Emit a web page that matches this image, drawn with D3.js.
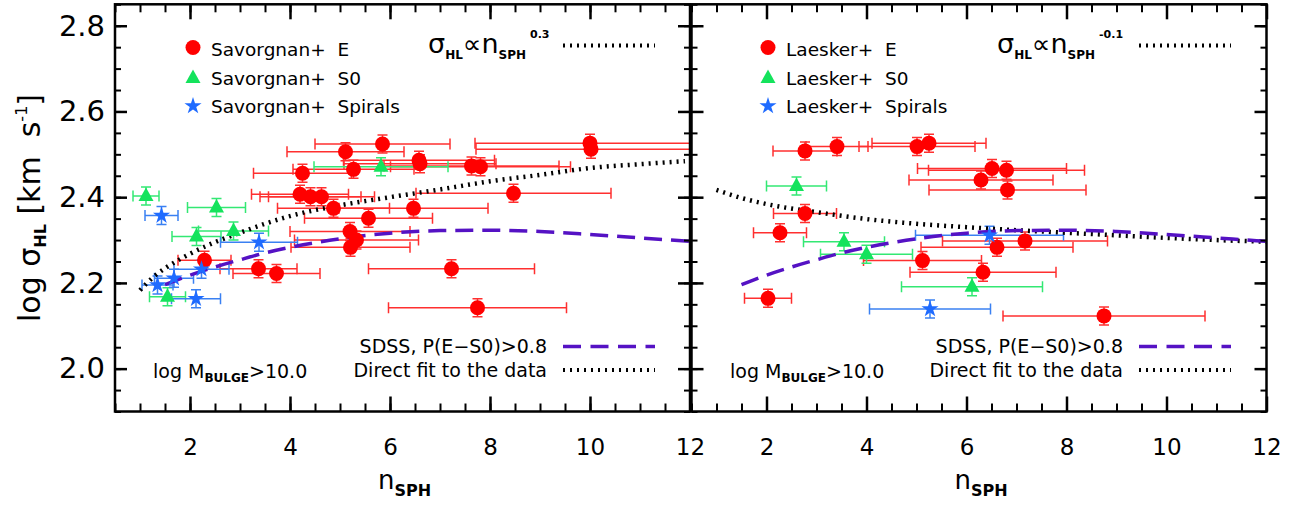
<!DOCTYPE html>
<html>
<head>
<meta charset="utf-8">
<script src="https://d3js.org/d3.v7.min.js"></script>
<style>
  body { margin: 0; background: #fff; }
  text { font-family: "DejaVu Sans", sans-serif; white-space: pre; }
</style>
</head>
<body>
<svg id="chart" width="1297" height="506"></svg>
<script>
// ---- left panel: Savorgnan+ sample ----
var savE_n    = [2.29, 3.37, 3.73, 4.20, 4.41, 4.63, 4.25, 4.87, 5.11, 5.27, 5.20, 5.33, 5.21, 5.57, 5.85, 6.47, 6.58, 6.60, 7.23, 7.63, 7.81, 7.75, 8.47, 10.00, 10.02];
var savE_sig  = [2.253, 2.233, 2.222, 2.407, 2.401, 2.401, 2.456, 2.374, 2.506, 2.465, 2.320, 2.300, 2.283, 2.351, 2.524, 2.374, 2.486, 2.478, 2.233, 2.473, 2.471, 2.142, 2.409, 2.526, 2.512];
var savE_nerr = [0.53, 0.77, 0.87, 0.97, 1.01, 1.06, 0.98, 1.12, 1.17, 1.21, 1.20, 1.24, 1.19, 1.28, 1.35, 1.49, 1.51, 1.52, 1.66, 1.75, 1.80, 1.78, 1.95, 2.30, 2.30];

var savS0_n    = [1.12, 1.55, 2.13, 2.53, 2.87, 5.82];
var savS0_sig  = [2.403, 2.168, 2.308, 2.376, 2.321, 2.471];
var savS0_nerr = [0.26, 0.36, 0.49, 0.58, 0.70, 1.34];

var savSp_n    = [1.35, 1.43, 1.68, 2.12, 2.23, 3.38];
var savSp_sig  = [2.195, 2.357, 2.211, 2.163, 2.232, 2.295];
var savSp_nerr = [0.31, 0.33, 0.39, 0.49, 0.55, 0.77];

// ---- right panel: Laesker+ sample ----
var laeE_n    = [2.03, 2.27, 2.77, 2.77, 3.41, 5.01, 5.25, 5.12, 6.29, 6.33, 6.51, 6.61, 6.80, 6.82, 7.17, 8.75];
var laeE_sig  = [2.164, 2.317, 2.362, 2.508, 2.518, 2.518, 2.526, 2.252, 2.440, 2.225, 2.467, 2.283, 2.463, 2.417, 2.298, 2.123];
var laeE_nerr = [0.47, 0.53, 0.63, 0.64, 0.62, 1.16, 1.14, 1.18, 1.44, 1.46, 1.49, 1.52, 1.56, 1.57, 1.65, 2.02];

var laeS0_n    = [2.60, 3.55, 4.00, 6.11];
var laeS0_sig  = [2.426, 2.296, 2.267, 2.191];
var laeS0_nerr = [0.60, 0.81, 0.92, 1.41];

var laeSp_n    = [5.27, 6.46];
var laeSp_sig  = [2.139, 2.311];
var laeSp_nerr = [1.21, 1.48];

var sigErr = 0.021;

// ---- curves ----
var savFit_n   = [1.0, 1.25, 1.5, 1.75, 2, 2.5, 3, 3.5, 4, 5, 6, 7, 8, 9, 10, 11, 11.9];
var savFit_sig = [2.183, 2.212, 2.234, 2.252, 2.268, 2.295, 2.317, 2.338, 2.356, 2.381, 2.400, 2.418, 2.437, 2.452, 2.468, 2.477, 2.484];

var laeFit_n   = [1.0, 1.5, 2, 3, 4, 5, 6, 7, 8, 9, 10, 11, 12];
var laeFit_sig = [2.417, 2.398, 2.384, 2.365, 2.349, 2.338, 2.330, 2.323, 2.317, 2.311, 2.305, 2.300, 2.296];

var sdss_n   = [1.5, 2, 2.5, 3, 3.5, 4, 5, 6, 7, 8, 9, 10, 11, 12];
var sdss_sig = [2.196, 2.218, 2.237, 2.254, 2.270, 2.283, 2.303, 2.316, 2.322, 2.323, 2.320, 2.313, 2.305, 2.297];

// ---- axes ----
var xDomain = [0.5, 12];
var yDomain = [1.9, 2.85];
var xMajor = [2, 4, 6, 8, 10, 12];
var xMinor = d3.range(0.5, 12.01, 0.5);
var yMajor = [2.0, 2.2, 2.4, 2.6, 2.8];
var yMinor = d3.range(1.9, 2.851, 0.05);

var red = "#ff0000", redBar = "#ff2f2f";
var green = "#14e35c", greenBar = "#33e873";
var blue = "#1f6bff", blueBar = "#3a80f2";
var purple = "#5512c4";

var svg = d3.select("#chart");
svg.append("rect").attr("width", 1297).attr("height", 506).attr("fill", "#fff");

var y = d3.scaleLinear().domain(yDomain).range([411.5, 4.3]);

var panels = [
  { id: "L", left: 115, right: 690, name: "Savorgnan+", expo: "0.3", fx: 428, lx: 193, ex: 547, lmx: 153,
    E: [savE_n, savE_sig, savE_nerr], S0: [savS0_n, savS0_sig, savS0_nerr], Sp: [savSp_n, savSp_sig, savSp_nerr],
    fit: [savFit_n, savFit_sig], yLabels: true },
  { id: "R", left: 691.5, right: 1266.5, name: "Laesker+", expo: "-0.1", fx: 997, lx: 768, ex: 1123, lmx: 730,
    E: [laeE_n, laeE_sig, laeE_nerr], S0: [laeS0_n, laeS0_sig, laeS0_nerr], Sp: [laeSp_n, laeSp_sig, laeSp_nerr],
    fit: [laeFit_n, laeFit_sig], yLabels: false }
];

function starPath(ro, ri) {
  var p = [];
  for (var i = 0; i < 10; i++) {
    var r = i % 2 ? ri : ro, a = -Math.PI / 2 + i * Math.PI / 5;
    p.push([r * Math.cos(a), r * Math.sin(a)]);
  }
  return "M" + p.join("L") + "Z";
}
var triPath = "M0,-8.5L7.5,5L-7.5,5Z";

function styleTicks(sel, w) {
  sel.select(".domain").remove();
  sel.selectAll(".tick line").attr("stroke", "#000").attr("stroke-width", w);
}

panels.forEach(function(p) {
  var x = d3.scaleLinear().domain(xDomain).range([p.left, p.right]);
  var g = svg.append("g");

  g.append("clipPath").attr("id", "clip" + p.id)
    .append("rect").attr("x", p.left).attr("y", y.range()[1])
    .attr("width", p.right - p.left).attr("height", y.range()[0] - y.range()[1]);
  var plot = g.append("g").attr("clip-path", "url(#clip" + p.id + ")");

  // error bars
  function errBars(set, col) {
    var idx = d3.range(set[0].length);
    var eb = plot.append("g").attr("stroke", col).attr("stroke-width", 1.5).attr("fill", "none");
    idx.forEach(function(i) {
      var n = set[0][i], s = set[1][i], e = set[2][i];
      var x0 = x(n - e), x1 = x(n + e), yc = y(s), y0 = y(s - sigErr), y1 = y(s + sigErr);
      eb.append("line").attr("x1", x0).attr("x2", x1).attr("y1", yc).attr("y2", yc);
      eb.append("line").attr("x1", x0).attr("x2", x0).attr("y1", yc - 5.5).attr("y2", yc + 5.5);
      eb.append("line").attr("x1", x1).attr("x2", x1).attr("y1", yc - 5.5).attr("y2", yc + 5.5);
      eb.append("line").attr("x1", x(n)).attr("x2", x(n)).attr("y1", y0).attr("y2", y1);
      eb.append("line").attr("x1", x(n) - 5).attr("x2", x(n) + 5).attr("y1", y0).attr("y2", y0);
      eb.append("line").attr("x1", x(n) - 5).attr("x2", x(n) + 5).attr("y1", y1).attr("y2", y1);
    });
  }
  errBars(p.E, redBar);
  errBars(p.S0, greenBar);
  errBars(p.Sp, blueBar);

  // curves
  var line = d3.line().x(function(d) { return x(d[0]); }).y(function(d) { return y(d[1]); })
    .curve(d3.curveMonotoneX);
  plot.append("path").datum(d3.zip(p.fit[0], p.fit[1])).attr("d", line)
    .attr("fill", "none").attr("stroke", "#000").attr("stroke-width", 4.5).attr("stroke-dasharray", "2,5");
  plot.append("path").datum(d3.zip(sdss_n, sdss_sig)).attr("d", line)
    .attr("fill", "none").attr("stroke", purple).attr("stroke-width", 3.5).attr("stroke-dasharray", "18,9");

  // markers
  plot.append("g").selectAll("circle").data(d3.zip(p.E[0], p.E[1])).join("circle")
    .attr("cx", function(d) { return x(d[0]); }).attr("cy", function(d) { return y(d[1]); })
    .attr("r", 7.5).attr("fill", red);
  plot.append("g").selectAll("path").data(d3.zip(p.S0[0], p.S0[1])).join("path")
    .attr("d", triPath).attr("fill", green)
    .attr("transform", function(d) { return "translate(" + x(d[0]) + "," + y(d[1]) + ")"; });
  plot.append("g").selectAll("path").data(d3.zip(p.Sp[0], p.Sp[1])).join("path")
    .attr("d", starPath(9, 3.4)).attr("fill", blue)
    .attr("transform", function(d) { return "translate(" + x(d[0]) + "," + y(d[1]) + ")"; });

  // axes: bottom / top
  var yb = y.range()[0], yt = y.range()[1];
  var bx = g.append("g").attr("transform", "translate(0," + yb + ")")
    .call(d3.axisBottom(x).tickValues(xMajor).tickSize(-15).tickPadding(27).tickFormat(d3.format("d")));
  styleTicks(bx, 2.5);
  bx.selectAll("text").attr("font-size", 23).attr("font-family", "DejaVu Sans").attr("fill", "#000");
  styleTicks(g.append("g").attr("transform", "translate(0," + yb + ")")
    .call(d3.axisBottom(x).tickValues(xMinor).tickSize(-8).tickFormat("")), 2);
  styleTicks(g.append("g").attr("transform", "translate(0," + yt + ")")
    .call(d3.axisTop(x).tickValues(xMajor).tickSize(-15).tickFormat("")), 2.5);
  styleTicks(g.append("g").attr("transform", "translate(0," + yt + ")")
    .call(d3.axisTop(x).tickValues(xMinor).tickSize(-8).tickFormat("")), 2);

  // axes: left / right
  var ly = g.append("g").attr("transform", "translate(" + p.left + ",0)")
    .call(d3.axisLeft(y).tickValues(yMajor).tickSize(-12).tickPadding(10)
      .tickFormat(p.yLabels ? d3.format(".1f") : ""));
  styleTicks(ly, 2.5);
  ly.selectAll("text").attr("font-size", 29).attr("font-family", "DejaVu Sans").attr("fill", "#000");
  styleTicks(g.append("g").attr("transform", "translate(" + p.left + ",0)")
    .call(d3.axisLeft(y).tickValues(yMinor).tickSize(-6).tickFormat("")), 2);
  styleTicks(g.append("g").attr("transform", "translate(" + p.right + ",0)")
    .call(d3.axisRight(y).tickValues(yMajor).tickSize(-12).tickFormat("")), 2.5);
  styleTicks(g.append("g").attr("transform", "translate(" + p.right + ",0)")
    .call(d3.axisRight(y).tickValues(yMinor).tickSize(-6).tickFormat("")), 2);

  g.append("rect").attr("x", p.left).attr("y", yt).attr("width", p.right - p.left).attr("height", yb - yt)
    .attr("fill", "none").attr("stroke", "#000").attr("stroke-width", 2.5);

  // x label
  var xl = g.append("text").attr("x", (p.left + p.right) / 2 + 2).attr("y", 489).attr("text-anchor", "middle");
  xl.append("tspan").attr("font-size", 26).text("n");
  xl.append("tspan").attr("font-size", 16).attr("font-weight", "bold").attr("dy", 7).text("SPH");

  // top-left legend
  var leg = g.append("g");
  leg.append("circle").attr("cx", p.lx).attr("cy", 47.5).attr("r", 7.5).attr("fill", red);
  leg.append("path").attr("d", triPath).attr("fill", green).attr("transform", "translate(" + p.lx + ",78)");
  leg.append("path").attr("d", starPath(9, 3.4)).attr("fill", blue).attr("transform", "translate(" + p.lx + ",106)");
  [[p.name + "  E", 56], [p.name + "  S0", 85], [p.name + "  Spirals", 113]].forEach(function(t) {
    leg.append("text").attr("x", p.lx + 18).attr("y", t[1]).attr("font-size", 18.5).text(t[0]);
  });

  // power-law label
  var f = g.append("text").attr("x", p.fx).attr("y", 53);
  f.append("tspan").attr("font-size", 27).text("σ");
  f.append("tspan").attr("font-size", 12).attr("font-weight", "bold").attr("dy", 6).text("HL");
  f.append("tspan").attr("font-size", 26).attr("dy", -6).text("∝");
  f.append("tspan").attr("font-size", 27).text("n");
  f.append("tspan").attr("font-size", 12).attr("font-weight", "bold").attr("dy", 6).text("SPH");
  f.append("tspan").attr("font-size", 11).attr("font-weight", "bold").attr("dy", -21).attr("dx", 4).text(p.expo);
  var lx0 = p.ex + 16, lx1 = p.ex + 108;
  g.append("line").attr("x1", lx0).attr("x2", lx1).attr("y1", 45.5).attr("y2", 45.5)
    .attr("stroke", "#000").attr("stroke-width", 4).attr("stroke-dasharray", "2,5");

  // bottom-right legend
  g.append("text").attr("x", p.ex).attr("y", 353).attr("text-anchor", "end").attr("font-size", 19).text("SDSS, P(E−S0)>0.8");
  g.append("text").attr("x", p.ex).attr("y", 377).attr("text-anchor", "end").attr("font-size", 19).text("Direct fit to the data");
  g.append("line").attr("x1", lx0).attr("x2", lx1).attr("y1", 346.5).attr("y2", 346.5)
    .attr("stroke", purple).attr("stroke-width", 3.5).attr("stroke-dasharray", "18,9.5");
  g.append("line").attr("x1", lx0).attr("x2", lx1).attr("y1", 370).attr("y2", 370)
    .attr("stroke", "#000").attr("stroke-width", 4).attr("stroke-dasharray", "2,5");

  // mass cut label
  var m = g.append("text").attr("x", p.lmx).attr("y", 378).attr("font-size", 19);
  m.append("tspan").text("log M");
  m.append("tspan").attr("font-size", 12).attr("font-weight", "bold").attr("dy", 4).text("BULGE");
  m.append("tspan").attr("dy", -4).text(">10.0");
});

// y label
var yl = svg.append("text").attr("transform", "translate(40,208) rotate(-90)")
  .attr("text-anchor", "middle").attr("font-size", 30);
yl.append("tspan").text("log ");
yl.append("tspan").text("σ");
yl.append("tspan").attr("font-size", 16).attr("font-weight", "bold").attr("dy", 6).text("HL");
yl.append("tspan").attr("dy", -6).text(" [km  s");
yl.append("tspan").attr("font-size", 16).attr("dy", -13).text("-1");
yl.append("tspan").attr("dy", 13).text("]");
</script>
</body>
</html>
